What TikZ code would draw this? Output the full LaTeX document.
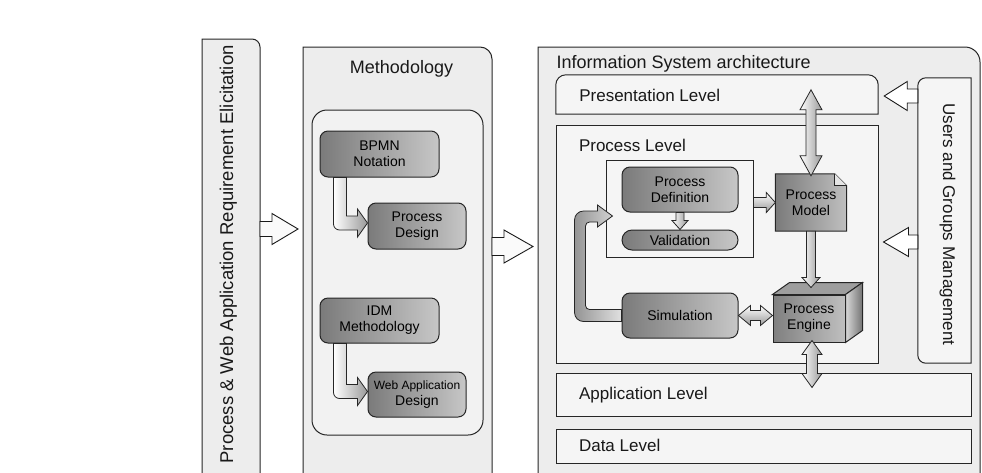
\documentclass[tikz,border=0pt]{standalone}
\usepackage{fontspec}
\setmainfont{Liberation Sans}
\usetikzlibrary{calc,positioning}

% block arrows, drawn as closed outlines
\newcommand{\harrow}[6]{% style, start, tip, shaft half, head half, head offset
  \draw[#1] ($(#2)+(0,-#4)$) -- ($(#3)+(#6,-#4)$) -- ($(#3)+(#6,-#5)$) -- (#3)
    -- ($(#3)+(#6,#5)$) -- ($(#3)+(#6,#4)$) -- ($(#2)+(0,#4)$) -- cycle;}
\newcommand{\varrow}[6]{% style, start, tip, shaft half, head half, head offset
  \draw[#1] ($(#2)+(-#4,0)$) -- ($(#3)+(-#4,#6)$) -- ($(#3)+(-#5,#6)$) -- (#3)
    -- ($(#3)+(#5,#6)$) -- ($(#3)+(#4,#6)$) -- ($(#2)+(#4,0)$) -- cycle;}
\newcommand{\vdarrow}[6]{% style, top tip, bottom tip, shaft half, head half, head length
  \draw[#1] (#2) -- ($(#2)+(#5,#6)$) -- ($(#2)+(#4,#6)$) -- ($(#3)+(#4,-#6)$)
    -- ($(#3)+(#5,-#6)$) -- (#3) -- ($(#3)+(-#5,-#6)$) -- ($(#3)+(-#4,-#6)$)
    -- ($(#2)+(-#4,#6)$) -- ($(#2)+(-#5,#6)$) -- cycle;}
\newcommand{\hdarrow}[6]{% style, left tip, right tip, shaft half, head half, head length
  \draw[#1] (#2) -- ($(#2)+(#6,-#5)$) -- ($(#2)+(#6,-#4)$) -- ($(#3)+(-#6,-#4)$)
    -- ($(#3)+(-#6,-#5)$) -- (#3) -- ($(#3)+(-#6,#5)$) -- ($(#3)+(-#6,#4)$)
    -- ($(#2)+(#6,#4)$) -- ($(#2)+(#6,#5)$) -- cycle;}
\newcommand{\bentarrow}[2]{% from the bottom of one box into the left of another
  \coordinate (ba) at ($(#1.south west)+(20.5,0)$);
  \coordinate (bt) at ($(#2.west)+(0,-3)$);
  \coordinate (bc) at (ba |- bt);
  \draw[blockarrow] ($(ba)+(-6.5,0)$) -- ($(bc)+(-6.5,1)$) arc[start angle=180,end angle=90,radius=6]
    -- ($(bt)+(-10,7)$) -- ($(bt)+(-10,14)$) -- (bt) -- ($(bt)+(-10,-14)$)
    -- ($(bt)+(-10,-7)$) -- ($(bc)+(6.5,-7)$) -- ($(ba)+(6.5,0)$) -- cycle;}

\tikzset{
  panel/.style={draw=black!85, line width=1pt, fill=black!7},
  levelbox/.style={draw=black!85, line width=1pt, fill=black!4, inner sep=0pt},
  procbox/.style={draw=black!85, line width=1pt, rounded corners=8pt, left color=black!52,
    right color=black!22, align=center, text=black, font=\fontsize{14}{16}\selectfont, inner sep=0pt},
  blockarrow/.style={draw=black!85, line width=0.8pt, left color=white, right color=black!40},
  sidearrow/.style={draw=black!85, line width=0.8pt, top color=white, bottom color=black!40},
  hollowarrow/.style={draw=black!90, line width=0.9pt, fill=black!2},
  leveltext/.style={anchor=base west, font=\fontsize{17}{19}\selectfont, text=black!90},
  titletext/.style={font=\fontsize{18}{20}\selectfont, text=black!90},
}

\begin{document}
\begin{tikzpicture}[x=1pt, y=-1pt]
	\useasboundingbox (0,0) rectangle (982,472);
	
	% three big panels
	\draw[panel] (202,480) -- (202,39) -- (252,39) arc[start angle=270,end angle=360,radius=8] -- (260,480) -- cycle;
	\draw[panel] (303,480) -- (303,47) -- (480,47) arc[start angle=270,end angle=360,radius=12] -- (492,480) -- cycle;
	\draw[panel] (538,480) -- (538,47) -- (965,47) arc[start angle=270,end angle=360,radius=15] -- (980,480) -- cycle;
	
	\node[titletext, rotate=90, anchor=base west, font=\fontsize{18.5}{20}\selectfont] (elicit) at (233,467)
		{Process \& Web Application Requirement Elicitation};
	\node[titletext, anchor=base] (methtitle) at (401.5,73) {Methodology};
	\node[titletext, anchor=base west] (istitle) at (553,68) {Information System architecture};
	
	% arrows between the panels
	\coordinate (EO) at (260,229);
	\coordinate (MI) at (298,229);
	\harrow{hollowarrow}{EO}{MI}{7.5}{15.5}{-26}
	\coordinate (MO) at (492,246.5);
	\coordinate (II) at (533,246.5);
	\harrow{hollowarrow}{MO}{II}{9}{16.5}{-29}
	
	% methodology
	\draw[panel, fill=black!5, rounded corners=15pt] (312,110) rectangle (483,435);
	\node[procbox, minimum width=119, minimum height=46] (bpmn) at (379.5,154) {BPMN\\Notation};
	\node[procbox, minimum width=98, minimum height=46] (pdesign) at (417,226) {Process\\Design};
	\node[procbox, minimum width=119, minimum height=45] (idm) at (379.5,320.5) {IDM\\Methodology};
	\node[procbox, minimum width=98, minimum height=45] (wdesign) at (417,394.5)
		{{\fontsize{12}{14}\selectfont Web Application}\\Design};
	\bentarrow{bpmn}{pdesign}
	\bentarrow{idm}{wdesign}
	
	% levels
	\node[minimum width=322, minimum height=39, inner sep=0pt] (preslevel) at (717,94.5) {};
	\draw[levelbox] (preslevel.south west) -- ($(preslevel.north west)+(0,10)$) arc[start angle=180,end angle=270,radius=10]
		-- ($(preslevel.north east)+(-10,0)$) arc[start angle=270,end angle=360,radius=10] -- (preslevel.south east) -- cycle;
	\node[leveltext] at ($(preslevel.north west)+(20,27)$) {Presentation Level};
	
	\node[levelbox, draw, minimum width=322, minimum height=238] (proclevel) at (717,244) {};
	\node[leveltext] at ($(proclevel.north west)+(20,27)$) {Process Level};
	
	\node[levelbox, draw, minimum width=415, minimum height=43] (applevel) at (763.5,394.5) {};
	\node[leveltext] at ($(applevel.north west)+(20,27)$) {Application Level};
	
	\node[levelbox, draw, minimum width=415, minimum height=34] (datalevel) at (763.5,446) {};
	\node[leveltext] at ($(datalevel.north west)+(20,23)$) {Data Level};
	
	% users and groups
	\node[minimum width=53, minimum height=285, inner sep=0pt] (users) at (944.5,220.5) {};
	\draw[levelbox] (users.north east) -- ($(users.north west)+(8,0)$) arc[start angle=270,end angle=180,radius=8]
		-- ($(users.south west)+(0,-8)$) arc[start angle=180,end angle=90,radius=8] -- (users.south east) -- cycle;
	\node[titletext, rotate=-90, anchor=base west, font=\fontsize{17}{19}\selectfont] at (943,100) {Users and Groups Management};
	\coordinate (UA) at ($(preslevel.east)+(6,1.5)$);
	\coordinate (UB) at (users.west |- UA);
	\harrow{hollowarrow, fill=white}{UB}{UA}{7}{14.5}{23}
	\coordinate (UC) at ($(proclevel.east)+(5,-2)$);
	\coordinate (UD) at (users.west |- UC);
	\harrow{hollowarrow, fill=white}{UD}{UC}{7}{14.5}{25}
	
	% process definition
	\node[levelbox, draw, minimum width=147, minimum height=97] (pdcont) at (679.5,208.5) {};
	\node[procbox, minimum width=116, minimum height=45] (pdef) at (680,189.5) {Process\\Definition};
	\node[procbox, rounded corners=10pt, minimum width=116, minimum height=20] (valid) at (680,240) {Validation};
	\varrow{blockarrow}{pdef.south}{valid.north}{4}{8}{-9}
	
	% process model (sheet with folded corner)
	\node[minimum width=71, minimum height=57, inner sep=0pt] (pmodel) at (811,202.5) {};
	\draw[line width=1pt, draw=black!85, left color=black!52, right color=black!25] (pmodel.north west)
		-- ($(pmodel.north east)+(-12,0)$) -- ($(pmodel.north east)+(0,12)$) -- (pmodel.south east)
		-- (pmodel.south west) -- cycle;
	\draw[line width=0.8pt, draw=black!85, fill=black!10] ($(pmodel.north east)+(-12,0)$)
		-- ($(pmodel.north east)+(-12,12)$) -- ($(pmodel.north east)+(0,12)$);
	\node[align=center, text=black, font=\fontsize{14}{16}\selectfont] at (pmodel) {Process\\Model};
	\coordinate (CM) at (pdcont.east |- pmodel.west);
	\harrow{sidearrow}{CM}{pmodel.west}{5}{10}{-9}
	\coordinate (PT) at ($(preslevel.north -| pmodel.north)+(0,15)$);
	\vdarrow{blockarrow}{PT}{$(pmodel.north)+(0,2)$}{5}{11}{20}
	
	% simulation and process engine
	\node[procbox, minimum width=116, minimum height=45] (sim) at (680,315.5) {Simulation};
	\node[procbox, sharp corners, left color=black!50, right color=black!25, minimum width=72, minimum height=47] (pengine) at (809,318.5) {Process\\Engine};
	\draw[line width=1pt, draw=black!85, fill=black!38] (pengine.north west) -- ++(17,-12)
		-- ($(pengine.north east)+(17,-12)$) -- (pengine.north east) -- cycle;
	\draw[line width=1pt, draw=black!85, left color=black!15, right color=black!55] (pengine.north east) -- ++(17,-12)
		-- ($(pengine.south east)+(17,-12)$) -- (pengine.south east) -- cycle;
	\coordinate (ET) at ($(pengine.north)+(2,-7)$);
	\varrow{blockarrow}{pmodel.south}{ET}{4.5}{9}{-10}
	\coordinate (SE) at (pengine.west |- sim.east);
	\hdarrow{sidearrow}{sim.east}{SE}{5}{10}{12}
	\coordinate (EA) at ($(pengine.south)+(3,-2)$);
	\coordinate (AE) at (EA |- applevel.north);
	\vdarrow{blockarrow}{EA}{$(AE)+(0,15)$}{5.5}{10}{14}
	
	% loop from simulation back to process definition
	\coordinate (LI) at (sim.west);
	\coordinate (LO) at ($(pdcont.west)+(7,7.5)$);
	\draw[line width=0.8pt, draw=black!85, left color=black!42, right color=black!12]
		($(LI)+(0,-6)$) -- ($(LI)+(-32,-6)$) arc[start angle=90,end angle=180,radius=4]
		-- ($(LO)+(-27,10)$) arc[start angle=180,end angle=270,radius=4]
		-- ($(LO)+(-15,6)$) -- ($(LO)+(-15,11)$) -- (LO) -- ($(LO)+(-15,-11)$) -- ($(LO)+(-15,-5)$)
		-- ($(LO)+(-29,-5)$) arc[start angle=270,end angle=180,radius=9]
		-- ($(LI)+(-47,-3)$) arc[start angle=180,end angle=90,radius=9]
		-- ($(LI)+(0,6)$) -- cycle;
\end{tikzpicture}
\end{document}
